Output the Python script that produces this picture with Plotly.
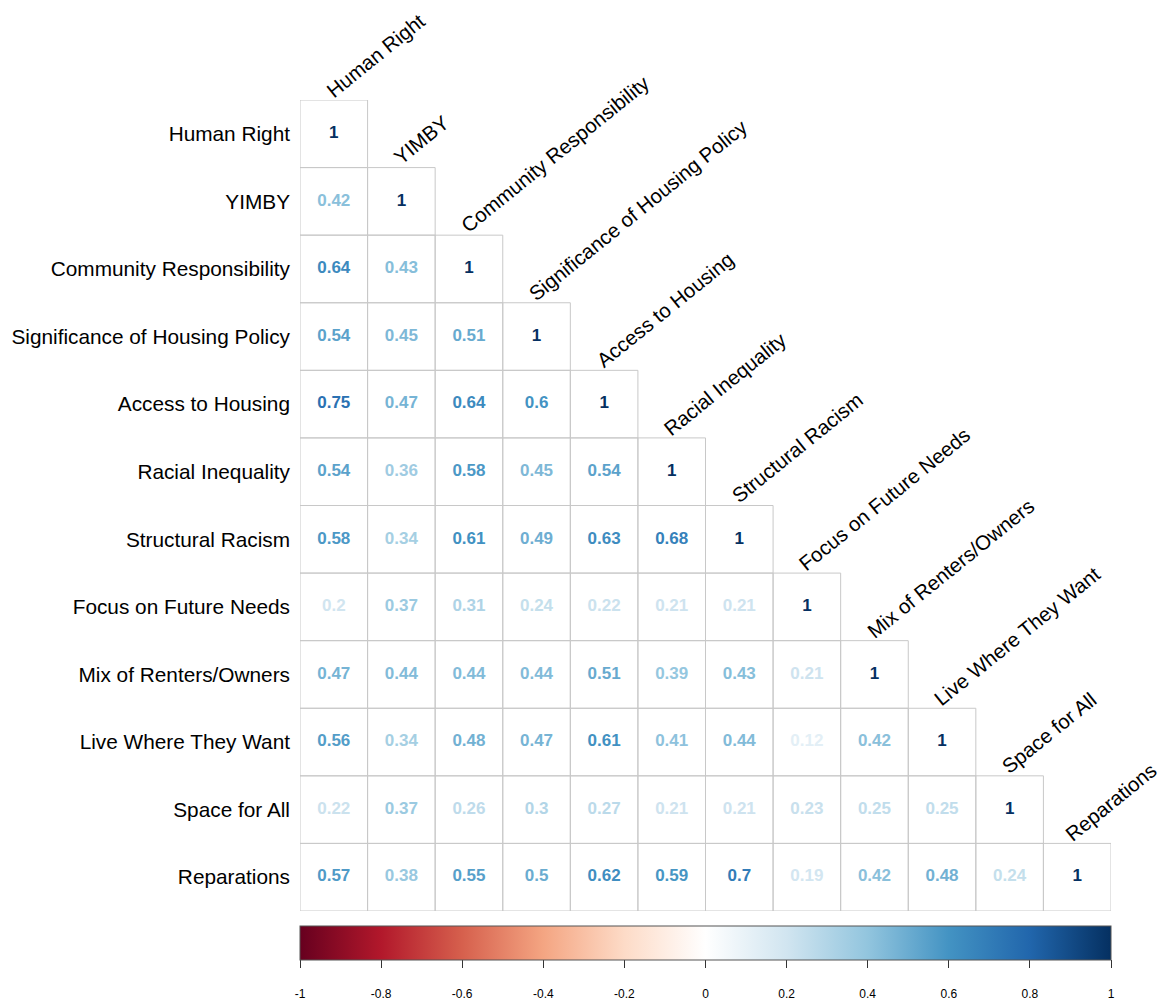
import plotly.graph_objects as go

labels = ["Human Right", "YIMBY", "Community Responsibility", "Significance of Housing Policy",
          "Access to Housing", "Racial Inequality", "Structural Racism", "Focus on Future Needs",
          "Mix of Renters/Owners", "Live Where They Want", "Space for All", "Reparations"]

# lower-triangle correlation rows (row i has i+1 values)
row_human_right = [1]
row_yimby = [0.42, 1]
row_community = [0.64, 0.43, 1]
row_significance = [0.54, 0.45, 0.51, 1]
row_access = [0.75, 0.47, 0.64, 0.6, 1]
row_racial = [0.54, 0.36, 0.58, 0.45, 0.54, 1]
row_structural = [0.58, 0.34, 0.61, 0.49, 0.63, 0.68, 1]
row_future = [0.2, 0.37, 0.31, 0.24, 0.22, 0.21, 0.21, 1]
row_mix = [0.47, 0.44, 0.44, 0.44, 0.51, 0.39, 0.43, 0.21, 1]
row_live = [0.56, 0.34, 0.48, 0.47, 0.61, 0.41, 0.44, 0.12, 0.42, 1]
row_space = [0.22, 0.37, 0.26, 0.3, 0.27, 0.21, 0.21, 0.23, 0.25, 0.25, 1]
row_reparations = [0.57, 0.38, 0.55, 0.5, 0.62, 0.59, 0.7, 0.19, 0.42, 0.48, 0.24, 1]

rows = [row_human_right, row_yimby, row_community, row_significance, row_access, row_racial,
        row_structural, row_future, row_mix, row_live, row_space, row_reparations]

colorbar_ticks = [-1, -0.8, -0.6, -0.4, -0.2, 0, 0.2, 0.4, 0.6, 0.8, 1]

rdbu = ["#67001F", "#B2182B", "#D6604D", "#F4A582", "#FDDBC7", "#FFFFFF",
        "#D1E5F0", "#92C5DE", "#4393C3", "#2166AC", "#053061"]
n_stops = len(rdbu)
colorscale = [[k / (n_stops - 1), c] for k, c in enumerate(rdbu)]


def hex2rgb(h):
    h = h.lstrip("#")
    return tuple(int(h[k:k + 2], 16) for k in (0, 2, 4))


def value_color(v):
    t = (v + 1) / 2 * (n_stops - 1)
    k = min(int(t), n_stops - 2)
    f = t - k
    a, b = hex2rgb(rdbu[k]), hex2rgb(rdbu[k + 1])
    r = [round(a[m] + (b[m] - a[m]) * f) for m in range(3)]
    return "rgb(%d,%d,%d)" % tuple(r)


xs, ys, vals, texts, colors = [], [], [], [], []
for i, row in enumerate(rows):
    for j, v in enumerate(row):
        xs.append(labels[j])
        ys.append(labels[i])
        vals.append(v)
        texts.append("<b>%s</b>" % ("%g" % v))
        colors.append(value_color(v))

FONT = "Liberation Sans, Arial, sans-serif"

fig = go.Figure()

# cell borders (in data coordinates of the categorical axes)
shapes = []
for i, row in enumerate(rows):
    for j, _ in enumerate(row):
        shapes.append(dict(type="rect", xref="x", yref="y",
                           x0=j - 0.5, x1=j + 0.5, y0=i - 0.5, y1=i + 0.5,
                           line=dict(color="#c8c8c8", width=1), fillcolor="rgba(0,0,0,0)",
                           layer="below"))

fig.add_trace(go.Scatter(
    x=xs, y=ys, mode="markers+text", text=texts, textposition="middle center",
    textfont=dict(color=colors, size=17, family=FONT),
    marker=dict(color=vals, colorscale=colorscale, cmin=-1, cmax=1, showscale=True,
                size=1, opacity=0,
                colorbar=dict(orientation="h", x=0.5, xanchor="center",
                              y=-0.019, yanchor="top", len=1, lenmode="fraction",
                              thickness=34, xpad=0, ypad=0,
                              outlinewidth=1, outlinecolor="#555555",
                              tickmode="array", tickvals=colorbar_ticks,
                              ticktext=["<br>%g" % t for t in colorbar_ticks],
                              ticks="outside", ticklen=8, tickcolor="#333333",
                              tickfont=dict(size=12, color="black", family=FONT))),
    hoverinfo="skip", showlegend=False,
))

annotations = []
for j, lab in enumerate(labels):
    annotations.append(dict(x=j, y=j - 0.5, xref="x", yref="y", text=lab,
                            showarrow=False, textangle=-39, borderpad=0,
                            xanchor="left", yanchor="bottom",
                            xshift=-13 if j < len(labels) - 1 else -17, yshift=-3,
                            font=dict(size=20.4, color="black", family=FONT)))

fig.update_layout(
    width=1164, height=1002,
    margin=dict(l=300, r=53, t=100, b=91, autoexpand=False),
    plot_bgcolor="white", paper_bgcolor="white",
    shapes=shapes, annotations=annotations,
    xaxis=dict(categoryorder="array", categoryarray=labels, range=[-0.5, 11.5],
               showticklabels=False, showgrid=False, zeroline=False, ticks="",
               automargin=False),
    yaxis=dict(categoryorder="array", categoryarray=labels, range=[11.5, -0.5],
               showgrid=False, zeroline=False, ticks="", ticklabelstandoff=9,
               automargin=False,
               tickfont=dict(size=20.8, color="black", family=FONT)),
)

fig.write_html("out.html", config={"displayModeBar": False},
               post_script="document.body.style.margin='0';document.body.style.overflow='hidden';")
